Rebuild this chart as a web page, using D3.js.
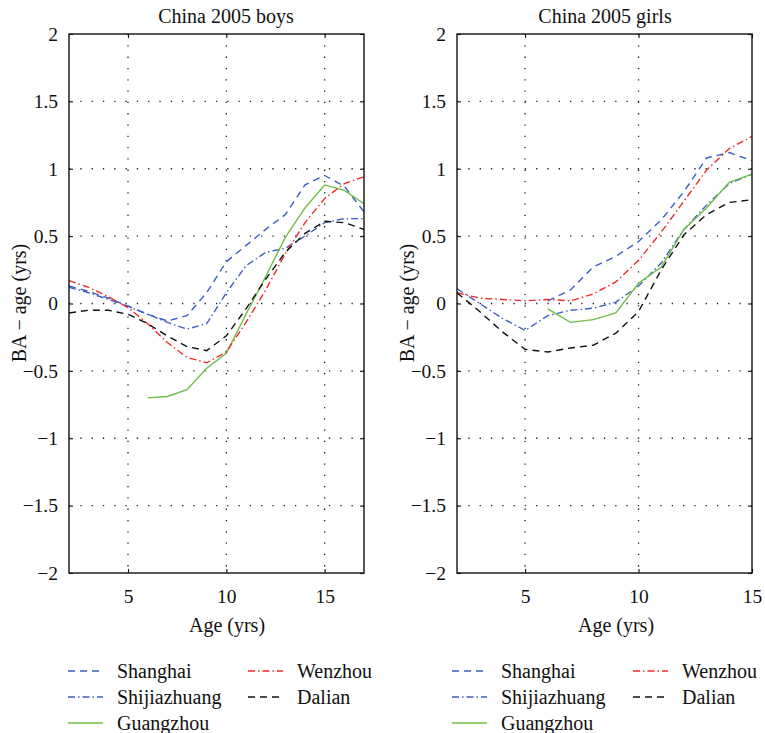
<!DOCTYPE html>
<html>
<head>
<meta charset="utf-8">
<script src="https://cdn.jsdelivr.net/npm/d3@7"></script>
<style>
  html, body { margin: 0; padding: 0; background: #fff; }
  svg text { font-family: "Liberation Serif", "Times New Roman", serif; fill: #111; }
</style>
</head>
<body>
<svg id="chart" width="765" height="733"></svg>
<script>
// ---------- data ----------
const boysAges  = [2,3,4,5,6,7,8,9,10,11,12,13,14,15,16,17];
const girlsAges = [2,3,4,5,6,7,8,9,10,11,12,13,14,15];

const shanghaiBoys     = [0.13,0.09,0.04,-0.02,-0.08,-0.13,-0.09,0.08,0.31,0.43,0.55,0.66,0.88,0.95,0.87,0.68];
const shijiazhuangBoys = [0.12,0.08,0.03,-0.02,-0.08,-0.14,-0.19,-0.15,0.08,0.28,0.38,0.41,0.50,0.60,0.63,0.63];
const guangzhouBoys    = [null,null,null,null,-0.70,-0.69,-0.64,-0.48,-0.37,-0.08,0.20,0.49,0.71,0.88,0.84,0.74];
const wenzhouBoys      = [0.17,0.12,0.05,-0.03,-0.15,-0.29,-0.40,-0.44,-0.36,-0.14,0.10,0.37,0.60,0.78,0.89,0.94];
const dalianBoys       = [-0.07,-0.05,-0.05,-0.08,-0.15,-0.24,-0.32,-0.35,-0.24,-0.04,0.18,0.38,0.52,0.61,0.60,0.55];

const shanghaiGirls     = [null,null,null,null,0.02,0.10,0.27,0.35,0.46,0.62,0.83,1.08,1.12,1.06];
const shijiazhuangGirls = [0.11,0.00,-0.11,-0.20,-0.09,-0.05,-0.035,0.01,0.13,0.30,0.55,0.73,0.89,0.96];
const guangzhouGirls    = [null,null,null,null,-0.04,-0.14,-0.12,-0.07,0.15,0.27,0.55,0.71,0.90,0.96];
const wenzhouGirls      = [0.08,0.04,0.03,0.02,0.03,0.02,0.07,0.16,0.32,0.53,0.76,0.99,1.15,1.24];
const dalianGirls       = [0.08,-0.06,-0.21,-0.34,-0.36,-0.33,-0.31,-0.22,-0.06,0.25,0.51,0.66,0.75,0.77];

const xTicks = [5,10,15];
const yTicks = [2,1.5,1,0.5,0,-0.5,-1,-1.5,-2];
const titles = ["China 2005 boys", "China 2005 girls"];
const seriesNames = ["Shanghai","Shijiazhuang","Guangzhou","Wenzhou","Dalian"];

// ---------- styles ----------
const styles = {
  "Shanghai":     {color:"#3d5fc6", dash:"7,5"},
  "Shijiazhuang": {color:"#3d5fc6", dash:"7,3,1.5,3"},
  "Guangzhou":    {color:"#6cbf45", dash:null},
  "Wenzhou":      {color:"#f02a2a", dash:"7,3,1.5,3"},
  "Dalian":       {color:"#111111", dash:"7,5"}
};

const svg = d3.select("#chart");
const fmt = v => (v < 0 ? "\u2212" + String(-v) : String(v));

function panel(opts) {
  const x = d3.scaleLinear().domain(opts.xDomain).range([opts.left, opts.right]);
  const y = d3.scaleLinear().domain([-2, 2]).range([573, 34]);
  const g = svg.append("g");

  // grid (dotted)
  const grid = g.append("g").attr("stroke", "#222").attr("stroke-width", 1.3)
    .attr("stroke-dasharray", "1.3,10").attr("fill", "none");
  xTicks.filter(t => t > opts.xDomain[0] && t < opts.xDomain[1]).forEach(t => {
    grid.append("line").attr("x1", x(t)).attr("x2", x(t)).attr("y1", y(2)).attr("y2", y(-2));
  });
  yTicks.filter(t => t > -2 && t < 2).forEach(t => {
    grid.append("line").attr("y1", y(t)).attr("y2", y(t)).attr("x1", x(opts.xDomain[0])).attr("x2", x(opts.xDomain[1]));
  });

  // series
  const line = d3.line().defined(d => d[1] !== null).x(d => x(d[0])).y(d => y(d[1]));
  seriesNames.forEach(name => {
    const vals = opts.data[name];
    const pts = opts.ages.map((a, i) => [a, vals[i]]);
    const s = styles[name];
    g.append("path").datum(pts).attr("d", line)
      .attr("fill", "none").attr("stroke", s.color).attr("stroke-width", 1.4)
      .attr("stroke-dasharray", s.dash);
  });

  // axes with inward ticks on all sides
  const tickLen = 4;
  const bottom = d3.axisBottom(x).tickValues(xTicks).tickSizeInner(-tickLen).tickSizeOuter(0).tickFormat(fmt).tickPadding(16);
  const gb = g.append("g").attr("transform", `translate(0,${y(-2)})`).call(bottom);
  const top = d3.axisTop(x).tickValues(xTicks).tickSizeInner(-tickLen).tickSizeOuter(0).tickFormat("");
  const gt = g.append("g").attr("transform", `translate(0,${y(2)})`).call(top);
  const leftAx = d3.axisLeft(y).tickValues(yTicks).tickSizeInner(-tickLen).tickSizeOuter(0).tickFormat(fmt).tickPadding(11);
  const gl = g.append("g").attr("transform", `translate(${opts.left},0)`).call(leftAx);
  const rightAx = d3.axisRight(y).tickValues(yTicks).tickSizeInner(-tickLen).tickSizeOuter(0).tickFormat("");
  const gr = g.append("g").attr("transform", `translate(${opts.right},0)`).call(rightAx);
  [gb, gt, gl, gr].forEach(a => {
    a.select(".domain").remove();
    a.selectAll("line").attr("stroke", "#111").attr("stroke-width", 1.1);
    a.selectAll("text").style("font-family", "'Liberation Serif', serif").style("font-size", "19.5px").attr("fill", "#111");
  });
  gb.selectAll("text").attr("dy", "0.71em");

  // frame
  g.append("rect").attr("x", opts.left).attr("y", y(2))
    .attr("width", opts.right - opts.left).attr("height", y(-2) - y(2))
    .attr("fill", "none").attr("stroke", "#111").attr("stroke-width", 1.4);

  // title and labels
  g.append("text").attr("x", opts.titleX).attr("y", 23).attr("text-anchor", "middle")
    .style("font-size", "20px").text(opts.title);
  g.append("text").attr("x", opts.xLabelX).attr("y", 632).attr("text-anchor", "middle")
    .style("font-size", "20px").text("Age (yrs)");
  g.append("text").attr("transform", `translate(${opts.yLabelX},303) rotate(-90)`)
    .attr("text-anchor", "middle").style("font-size", "20px").text("BA \u2212 age (yrs)");

  // legend
  const lg = g.append("g");
  const layout = [
    {name:"Shanghai", col:0, row:0}, {name:"Wenzhou", col:1, row:0},
    {name:"Shijiazhuang", col:0, row:1}, {name:"Dalian", col:1, row:1},
    {name:"Guangzhou", col:0, row:2}
  ];
  layout.forEach(it => {
    const lx = opts.legendX[it.col];
    const ly = 671 + it.row * 26;
    const s = styles[it.name];
    lg.append("line").attr("x1", lx).attr("x2", lx + 35).attr("y1", ly).attr("y2", ly)
      .attr("stroke", s.color).attr("stroke-width", 1.4).attr("stroke-dasharray", s.dash);
    lg.append("text").attr("x", lx + 49).attr("y", ly).attr("dy", "0.35em")
      .style("font-size", "20px").text(it.name);
  });
}

panel({
  xDomain: [2, 17], left: 69, right: 364, ages: boysAges,
  data: {"Shanghai": shanghaiBoys, "Shijiazhuang": shijiazhuangBoys, "Guangzhou": guangzhouBoys,
         "Wenzhou": wenzhouBoys, "Dalian": dalianBoys},
  title: titles[0], titleX: 226, xLabelX: 227, yLabelX: 26, legendX: [68, 248]
});
panel({
  xDomain: [2, 15], left: 457, right: 752, ages: girlsAges,
  data: {"Shanghai": shanghaiGirls, "Shijiazhuang": shijiazhuangGirls, "Guangzhou": guangzhouGirls,
         "Wenzhou": wenzhouGirls, "Dalian": dalianGirls},
  title: titles[1], titleX: 605, xLabelX: 616, yLabelX: 414, legendX: [452, 633]
});
</script>
</body>
</html>
